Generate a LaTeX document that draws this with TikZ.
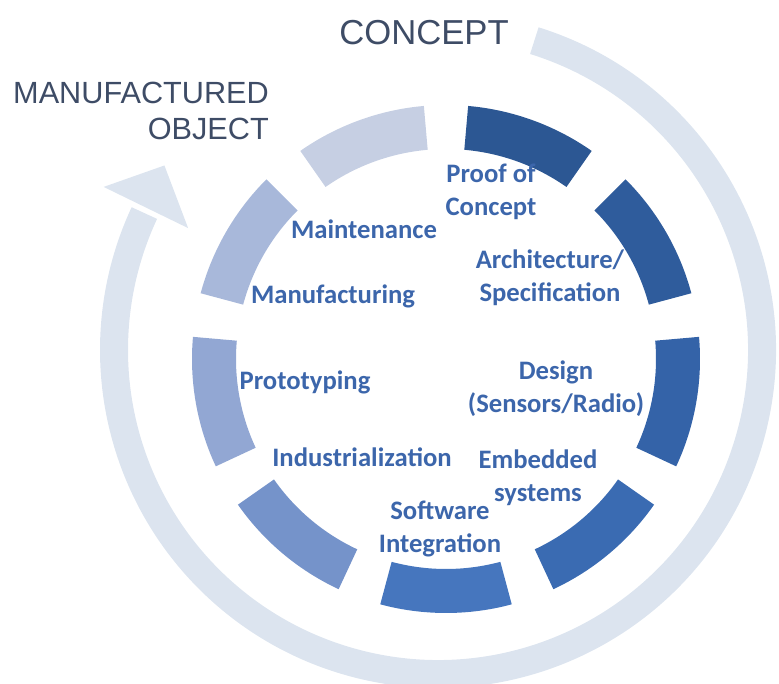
\documentclass[tikz,border=0pt]{standalone}
\usepackage{fontspec}
\setmainfont{Carlito}
\newfontfamily\capsfont{Liberation Sans}
\usetikzlibrary{positioning,calc}
\definecolor{ringblue}{HTML}{DCE4EF}
\definecolor{labelblue}{HTML}{3C66AB}
\definecolor{slate}{HTML}{3E4C66}
\definecolor{segA}{HTML}{2C5793}
\definecolor{segB}{HTML}{2F5C9C}
\definecolor{segC}{HTML}{3463A8}
\definecolor{segD}{HTML}{3A6BB2}
\definecolor{segE}{HTML}{4676BE}
\definecolor{segF}{HTML}{7593CA}
\definecolor{segG}{HTML}{92A7D3}
\definecolor{segH}{HTML}{A8B8DA}
\definecolor{segI}{HTML}{C6CFE3}
\tikzset{steplabel/.style={text=labelblue, font=\fontsize{20}{24.5}\selectfont\bfseries, align=center, inner sep=0pt}}
\tikzset{bigword/.style={text=slate, font=\capsfont\fontsize{23}{26.5}\selectfont, inner sep=0pt}}
\tikzset{loopring/.style={draw=ringblue, line width=21pt}}

\begin{document}
\begin{tikzpicture}[x=0.75pt, y=0.75pt]
    \useasboundingbox (0,0) rectangle (779,684);
    \coordinate (hub) at (446,325);
    \coordinate (loophub) at (438,334);
    % the cycle arrow round everything
    \draw[loopring] ($(loophub)+(72.7:324)$) arc[start angle=72.7, end angle=-205, radius=324];
    \fill[ringblue] ($(loophub)+(154:278)$) -- ($(loophub)+(154:372)$)
        -- ($(loophub)+(146:330)$) -- cycle;
    % nine ring pieces
    \foreach \c/\col in {70/segA, 30/segB, -10/segC, -50/segD, -90/segE, -130/segF, -170/segG, 150/segH, 110/segI}
        \fill[\col] ($(hub)+(\c-15:254)$) arc[start angle=\c-15, end angle=\c+15, radius=254]
            -- ($(hub)+(\c+15:210)$) arc[start angle=\c+15, end angle=\c-15, radius=210] -- cycle;

    \node[bigword, font=\capsfont\fontsize{26}{30}\selectfont] (concept) at (424,651) {CONCEPT};
    \node[bigword, align=right] (mobj) at (141,573) {MANUFACTURED\\OBJECT};

    \node[steplabel] (proof) at (491,492) {Proof of\\Concept};
    \node[steplabel] (arch) at (550,406) {Architecture/\\Specification};
    \node[steplabel] (design) at (556,295) {Design\\(Sensors/Radio)};
    \node[steplabel] (embed) at (538,206) {Embedded\\systems};
    \node[steplabel] (softw) at (440,155) {Software\\Integration};
    \node[steplabel] (indus) at (362,227) {Industrialization};
    \node[steplabel] (proto) at (305,302) {Prototyping};
    \node[steplabel] (manuf) at (333,388) {Manufacturing};
    \node[steplabel] (maint) at (364,455) {Maintenance};
\end{tikzpicture}
\end{document}
